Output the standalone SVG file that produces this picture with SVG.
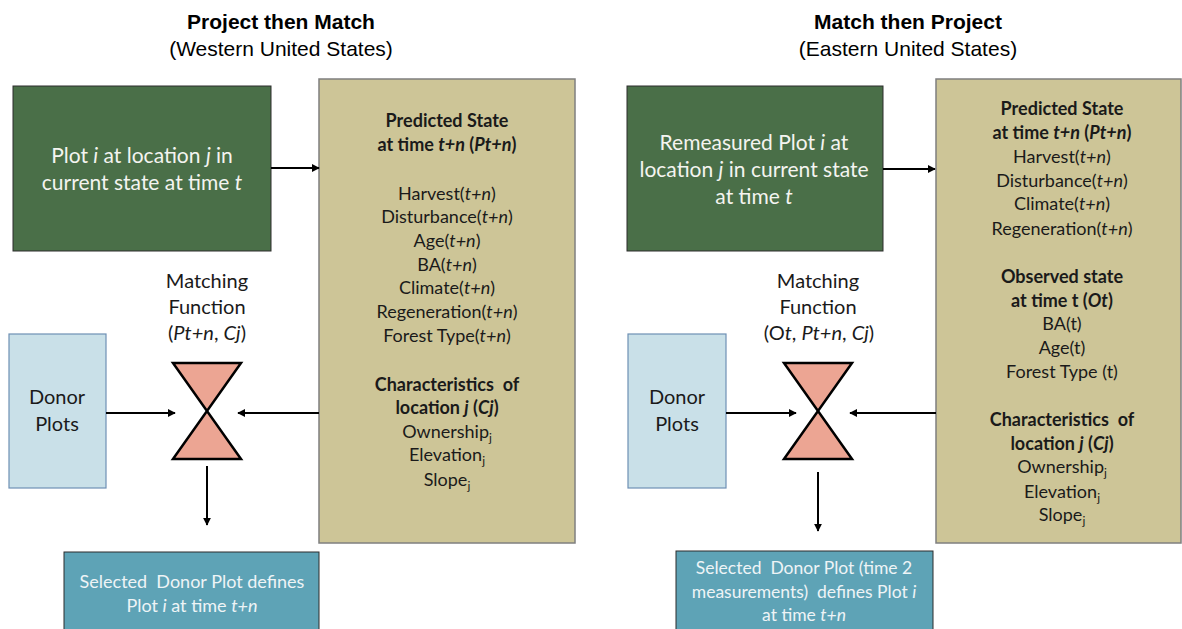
<svg xmlns="http://www.w3.org/2000/svg" width="1182" height="629" viewBox="0 0 1182 629">
<style>
.title{font-family:"Liberation Sans",Arial,sans-serif;font-size:21px;font-weight:bold;fill:#000;text-anchor:middle}
.sub{font-family:"Liberation Sans",Arial,sans-serif;font-size:21px;fill:#000;text-anchor:middle}
.t{font-family:Lato,"Open Sans",sans-serif;text-anchor:middle}
.wt{fill:#f4f4f0;font-size:21px}
.tan{font-size:18px;fill:#1a1a1a}
.b{font-weight:bold}
.lab{font-size:20px;fill:#1a1a1a}
.bot{fill:#eef4f6;font-size:18px}
.bot2{fill:#eef4f6;font-size:17.5px}
.green{fill:#4a6f48;stroke:#2c2c2c;stroke-width:1}
.tanbox{fill:#cdc597;stroke:#7f7f7f;stroke-width:1.5}
.donor{fill:#c9e0e8;stroke:#6e90b4;stroke-width:1.2}
.result{fill:#5ea3b6;stroke:#2c2c2c;stroke-width:1}
.hg{fill:#eca593;stroke:#000;stroke-width:2.5;stroke-linejoin:miter}
.conn{stroke:#000;stroke-width:2;fill:none;marker-end:url(#ah)}
</style>
<defs>
<marker id="ah" viewBox="0 0 10 10" refX="9" refY="5" markerWidth="4" markerHeight="4" orient="auto" markerUnits="strokeWidth">
<path d="M0,0 L10,5 L0,10 z" fill="#000"/>
</marker>
</defs>
<rect width="1182" height="629" fill="#fff"/>

<g id="titles">
<text class="title" x="281" y="29">Project then Match</text>
<text class="sub" x="281" y="56">(Western United States)</text>
<text class="title" x="908" y="29">Match then Project</text>
<text class="sub" x="908" y="56">(Eastern United States)</text>
</g>

<!-- LEFT -->
<g id="L-plot">
<rect class="green" x="13" y="86" width="258" height="165"/>
<text class="t wt" x="142" y="163">Plot <tspan font-style="italic">i</tspan> at location <tspan font-style="italic">j</tspan> in</text>
<text class="t wt" x="142" y="190">current state at time <tspan font-style="italic">t</tspan></text>
</g>
<g id="L-predicted">
<rect class="tanbox" x="319" y="79" width="256" height="464"/>
<text class="t tan b" x="447" y="127">Predicted State</text>
<text class="t tan b" x="447" y="151">at time <tspan font-style="italic">t+n</tspan> (<tspan font-style="italic">Pt+n</tspan>)</text>
<text class="t tan" x="447" y="200">Harvest(<tspan font-style="italic">t+n</tspan>)</text>
<text class="t tan" x="447" y="223">Disturbance(<tspan font-style="italic">t+n</tspan>)</text>
<text class="t tan" x="447" y="247">Age(<tspan font-style="italic">t+n</tspan>)</text>
<text class="t tan" x="447" y="271">BA(<tspan font-style="italic">t+n</tspan>)</text>
<text class="t tan" x="447" y="294">Climate(<tspan font-style="italic">t+n</tspan>)</text>
<text class="t tan" x="447" y="318">Regeneration(<tspan font-style="italic">t+n</tspan>)</text>
<text class="t tan" x="447" y="342">Forest Type(<tspan font-style="italic">t+n</tspan>)</text>
<text class="t tan b" x="447" y="391" xml:space="preserve">Characteristics  of</text>
<text class="t tan b" x="447" y="414">location <tspan font-style="italic">j</tspan> (<tspan font-style="italic">Cj</tspan>)</text>
<text class="t tan" x="447" y="438">Ownership<tspan font-size="12" dy="4">j</tspan></text>
<text class="t tan" x="447" y="461">Elevation<tspan font-size="12" dy="4">j</tspan></text>
<text class="t tan" x="447" y="486">Slope<tspan font-size="12" dy="4">j</tspan></text>
</g>
<g id="L-matching">
<text class="t lab" x="207" y="288">Matching</text>
<text class="t lab" x="207" y="314">Function</text>
<text class="t lab" x="207" y="340">(<tspan font-style="italic">Pt+n</tspan>, <tspan font-style="italic">Cj</tspan>)</text>
<path class="hg" d="M173,363 L241,363 L173,459 L241,459 Z"/>
</g>
<g id="L-donor">
<rect class="donor" x="9" y="334" width="97" height="154"/>
<text class="t lab" x="57" y="404">Donor</text>
<text class="t lab" x="57" y="431">Plots</text>
</g>
<g id="L-result">
<rect class="result" x="64" y="552" width="255" height="90"/>
<text class="t bot" x="192" y="588" xml:space="preserve">Selected  Donor Plot defines</text>
<text class="t bot" x="192" y="612">Plot <tspan font-style="italic">i</tspan> at time <tspan font-style="italic">t+n</tspan></text>
</g>

<!-- RIGHT -->
<g id="R-plot">
<rect class="green" x="627" y="86" width="256" height="165"/>
<text class="t wt" x="754" y="150">Remeasured Plot <tspan font-style="italic">i</tspan> at</text>
<text class="t wt" x="754" y="177">location <tspan font-style="italic">j</tspan> in current state</text>
<text class="t wt" x="754" y="204">at time <tspan font-style="italic">t</tspan></text>
</g>
<g id="R-predicted">
<rect class="tanbox" x="936" y="79" width="245" height="464"/>
<text class="t tan b" x="1062" y="115">Predicted State</text>
<text class="t tan b" x="1062" y="139">at time <tspan font-style="italic">t+n</tspan> (<tspan font-style="italic">Pt+n</tspan>)</text>
<text class="t tan" x="1062" y="163">Harvest(<tspan font-style="italic">t+n</tspan>)</text>
<text class="t tan" x="1062" y="187">Disturbance(<tspan font-style="italic">t+n</tspan>)</text>
<text class="t tan" x="1062" y="210">Climate(<tspan font-style="italic">t+n</tspan>)</text>
<text class="t tan" x="1062" y="235">Regeneration(<tspan font-style="italic">t+n</tspan>)</text>
<text class="t tan b" x="1062" y="283">Observed state</text>
<text class="t tan b" x="1062" y="307">at time t (<tspan font-style="italic">Ot</tspan>)</text>
<text class="t tan" x="1062" y="330">BA(t)</text>
<text class="t tan" x="1062" y="354">Age(t)</text>
<text class="t tan" x="1062" y="378">Forest Type (t)</text>
<text class="t tan b" x="1062" y="426" xml:space="preserve">Characteristics  of</text>
<text class="t tan b" x="1062" y="450">location <tspan font-style="italic">j</tspan> (<tspan font-style="italic">Cj</tspan>)</text>
<text class="t tan" x="1062" y="473">Ownership<tspan font-size="12" dy="4">j</tspan></text>
<text class="t tan" x="1062" y="498">Elevation<tspan font-size="12" dy="4">j</tspan></text>
<text class="t tan" x="1062" y="521">Slope<tspan font-size="12" dy="4">j</tspan></text>
</g>
<g id="R-matching">
<text class="t lab" x="818" y="288">Matching</text>
<text class="t lab" x="818" y="314">Function</text>
<text class="t lab" x="819" y="340">(O<tspan font-style="italic">t</tspan>, <tspan font-style="italic">Pt+n</tspan>, <tspan font-style="italic">Cj</tspan>)</text>
<path class="hg" d="M784,363 L852,363 L784,459 L852,459 Z"/>
</g>
<g id="R-donor">
<rect class="donor" x="628" y="334" width="98" height="154"/>
<text class="t lab" x="677" y="404">Donor</text>
<text class="t lab" x="677" y="431">Plots</text>
</g>
<g id="R-result">
<rect class="result" x="676" y="551" width="257" height="90"/>
<text class="t bot2" x="804" y="574" xml:space="preserve">Selected  Donor Plot (time 2</text>
<text class="t bot2" x="804" y="598" xml:space="preserve">measurements)  defines Plot <tspan font-style="italic">i</tspan></text>
<text class="t bot2" x="804" y="621">at time <tspan font-style="italic">t+n</tspan></text>
</g>

<g id="connectors">
<line class="conn" x1="271" y1="168" x2="319" y2="168"/>
<line class="conn" x1="106" y1="413" x2="175" y2="413"/>
<line class="conn" x1="319" y1="413" x2="238" y2="413"/>
<line class="conn" x1="207" y1="466" x2="207" y2="525"/>
<line class="conn" x1="883" y1="169" x2="935" y2="169"/>
<line class="conn" x1="726" y1="413" x2="796" y2="413"/>
<line class="conn" x1="936" y1="413" x2="850" y2="413"/>
<line class="conn" x1="818" y1="472" x2="818" y2="531"/>
</g>
</svg>
